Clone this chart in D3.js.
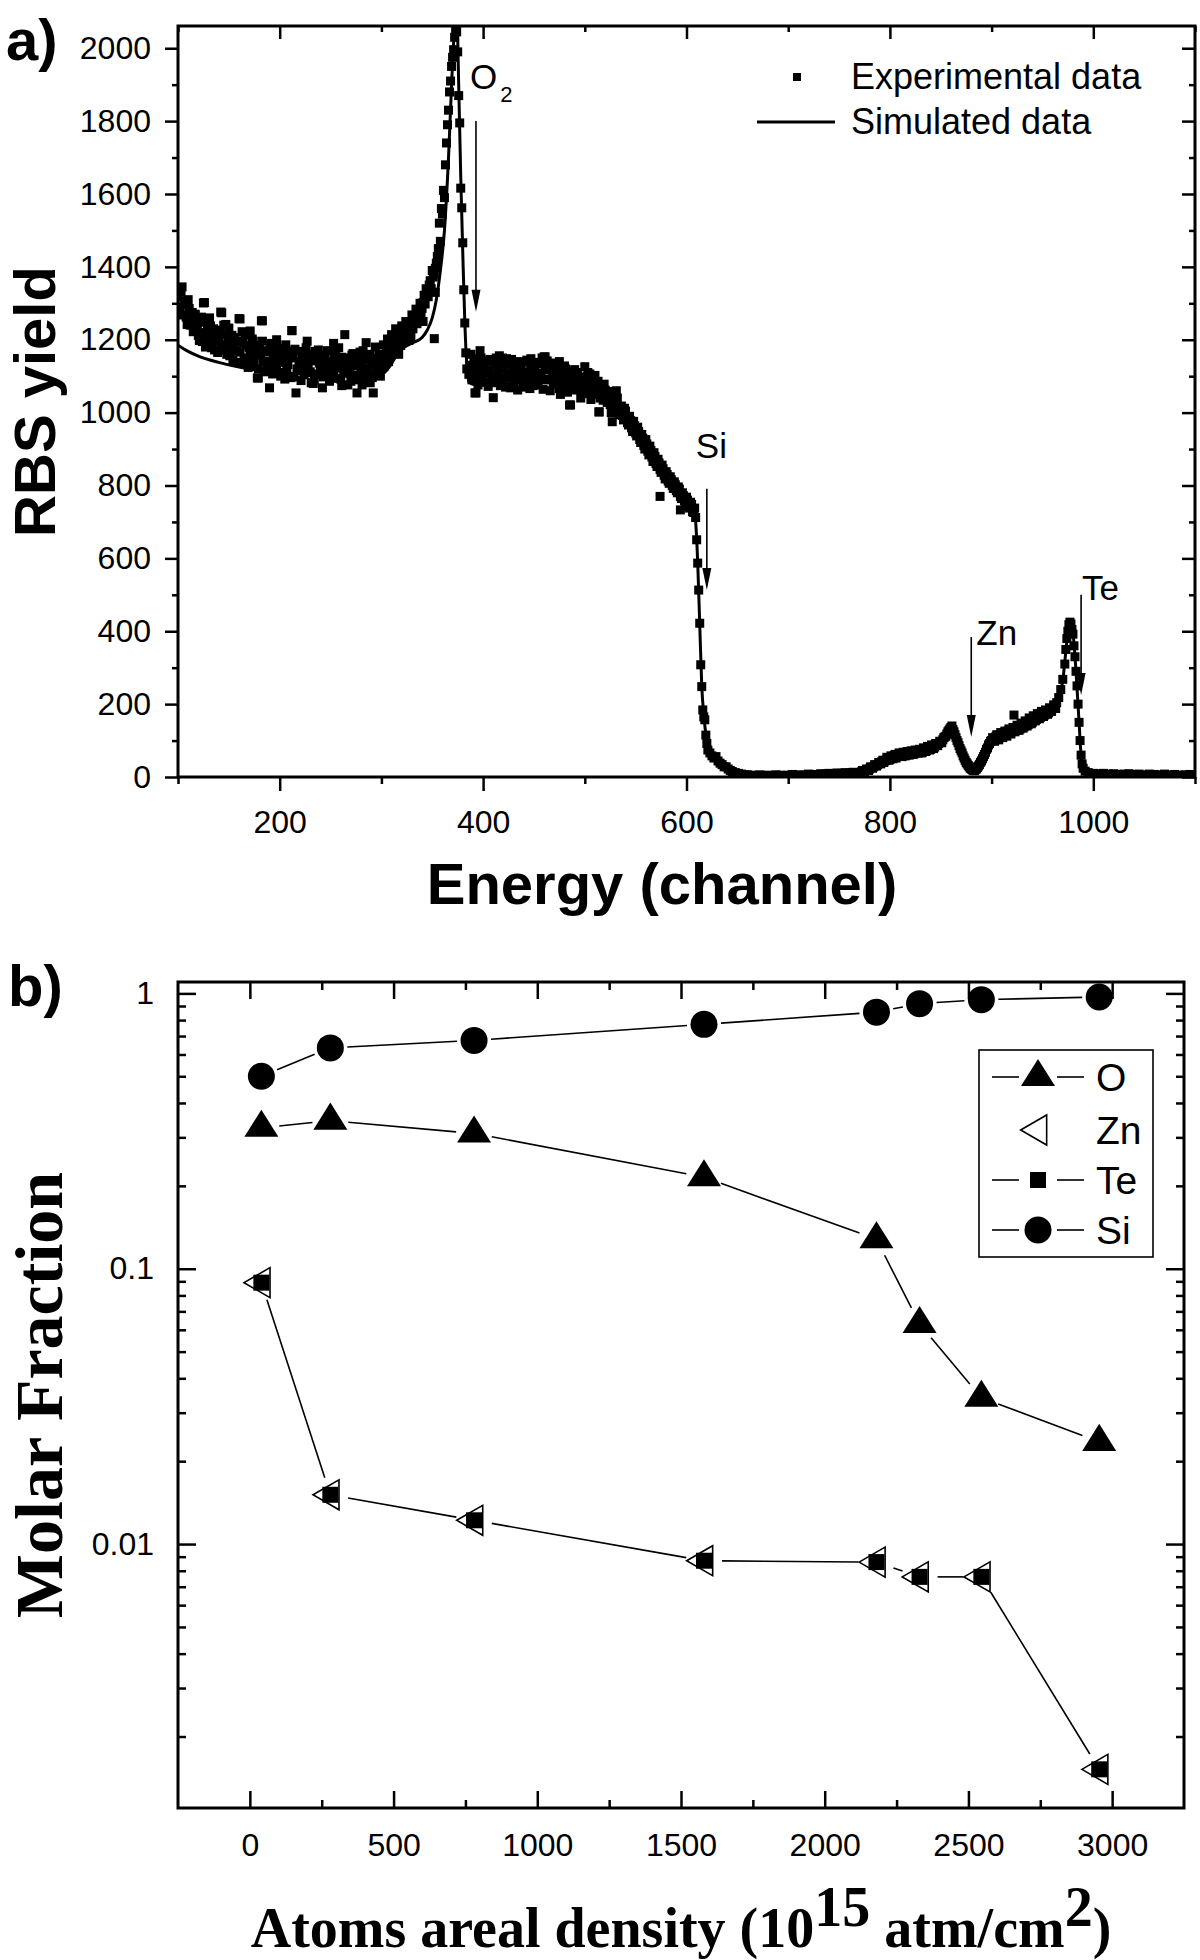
<!DOCTYPE html>
<html>
<head>
<meta charset="utf-8">
<script src="https://cdn.jsdelivr.net/npm/d3@7/dist/d3.min.js"></script>
<style>
  body { margin: 0; background: #FFFFFF; }
  svg { display: block; }
</style>
</head>
<body>
<div class="chart"></div>
<script>
// ---------- panel a: RBS spectrum (channel, yield) ----------
const expLeft = [
  [100,1318],[102,1282],[104,1345],[106,1296],[108,1262],[110,1310],[112,1240],[114,1275],[116,1228],[118,1256],
  [120,1212],[122,1248],[124,1195],[126,1302],[128,1220],[130,1186],[132,1238],[134,1204],[136,1172],[138,1226],
  [140,1198],[142,1276],[144,1180],[146,1215],[148,1160],[150,1232],[152,1188],[154,1145],[156,1206],[158,1170],
  [160,1258],[162,1136],[164,1192],[166,1214],[168,1150],[170,1178],[172,1128],[174,1196],[176,1162],[178,1095],
  [180,1184],[182,1252],[184,1140],[186,1170],[188,1118],[190,1068],[192,1190],[194,1150],[196,1122],[198,1176],
  [200,1138],[202,1160],[204,1110],[206,1186],[208,1132],[210,1156],[212,1225],[214,1098],[216,1054],[218,1168],
  [220,1126],[222,1148],[224,1104],[226,1178],[228,1130],[230,1112],[232,1160],[234,1090],[236,1142],[238,1172],
  [240,1120],[242,1068],[244,1150],[246,1106],[248,1134],[250,1168],[252,1100],[254,1144],[256,1122],[258,1178],
  [260,1092],[262,1138],[264,1214],[266,1116],[268,1150],[270,1086],[272,1162],[274,1128],[276,1054],[278,1144],
  [280,1106],[282,1170],[284,1120],[286,1098],[288,1152],[290,1130],[292,1054],[294,1180],[296,1118],[298,1160],
  [300,1136],[302,1186],[304,1148],[306,1202],[308,1162],[310,1214],[312,1176],[314,1230],[316,1190],[318,1206],
  [320,1238],[322,1196],[324,1250],[326,1218],[328,1236],[330,1268],[332,1246],[334,1284],[336,1262],[338,1300],
  [340,1286],[342,1322],[344,1340],[346,1318],[348,1362],[350,1390],[352,1380],[354,1410],[356,1450]
];
const expLeftOdd = [
  [101,1290],[103,1330],[105,1268],[107,1305],[109,1242],[111,1286],[113,1258],[115,1222],[117,1270],[119,1234],
  [121,1198],[123,1262],[125,1218],[127,1180],[129,1244],[131,1206],[133,1178],[135,1230],[137,1196],[139,1165],
  [141,1218],[143,1186],[145,1240],[147,1172],[149,1200],[151,1156],[153,1212],[155,1178],[157,1138],[159,1196],
  [161,1166],[163,1222],[165,1146],[167,1184],[169,1124],[171,1170],[173,1202],[175,1142],[177,1180],[179,1120],
  [181,1158],[183,1196],[185,1112],[187,1166],[189,1140],[191,1184],[193,1106],[195,1170],[197,1132],[199,1158],
  [201,1100],[203,1176],[205,1140],[207,1118],[209,1168],[211,1096],[213,1150],[215,1174],[217,1120],[219,1140],
  [221,1088],[223,1162],[225,1134],[227,1110],[229,1156],[231,1082],[233,1146],[235,1168],[237,1106],[239,1136],
  [241,1158],[243,1098],[245,1128],[247,1170],[249,1086],[251,1142],[253,1116],[255,1160],[257,1094],[259,1130],
  [261,1152],[263,1108],[265,1140],[267,1076],[269,1126],[271,1158],[273,1102],[275,1136],[277,1090],[279,1166],
  [281,1124],[283,1084],[285,1146],[287,1112],[289,1160],[291,1096],[293,1138],[295,1104],[297,1148],[299,1122],
  [301,1160],[303,1128],[305,1176],[307,1150],[309,1188],[311,1160],[313,1198],[315,1172],[317,1216],[319,1184],
  [321,1224],[323,1206],[325,1232],[327,1198],[329,1250],[331,1230],[333,1262],[335,1244],[337,1280],[339,1268],
  [341,1302],[343,1298],[345,1330],[347,1350],[349,1340],[351,1372],[353,1396],[355,1428]
];
const expLeftExtra = [
  [125,1301],[131,1260],[143,1274],[147,1242],[161,1257],[171,1224],[179,1095],[183,1252],[197,1200],[205,1092],
  [212,1225],[227,1196],[233,1080],[253,1190],[261,1074],[281,1076],[285,1192],[289,1082],[299,1100],[307,1140],
  [317,1160],[329,1206],[341,1250],[352,1203],[353,1330],[355,1401]
];
const expPeak = [
  [357,1520],[358,1470],[359,1560],[360,1545],[361,1610],[362,1590],[363,1680],[364,1740],[365,1790],[366,1830],
  [367,1880],[368,1910],[369,1950],[370,1975],[371,1996],[372,2030],[373,2050],[374,2045],[375,1990],[376,1870],
  [377,1795],[378,1616],[379,1562],[380,1466],[381,1337],[382,1246],[383,1164],[384,1120]
];
const expPlateau = [
  [386,1105],[388,1160],[390,1124],[392,1054],[394,1138],[396,1096],[398,1150],[400,1112],[402,1084],[404,1142],
  [406,1118],[408,1090],[410,1041],[412,1130],[414,1102],[416,1156],[418,1088],[420,1120],[422,1070],[424,1134],
  [426,1098],[428,1146],[430,1084],[432,1116],[434,1062],[436,1128],[438,1100],[440,1139],[442,1080],[444,1112],
  [446,1066],[448,1124],[450,1094],[452,1138],[454,1076],[456,1108],[458,1150],[460,1153],[462,1090],[464,1122],
  [466,1060],[468,1102],[470,1136],[472,1078],[474,1114],[476,1050],[478,1098],[480,1128],[482,1072],[484,1104],
  [486,1021],[488,1090],[490,1118],[492,1062],[494,1096],[496,1040],[498,1080],[500,1126],[502,1066],[504,1094],
  [506,1036],[508,1070],[510,1102],[512,1050],[514,1002],[516,1076],[518,1034],[520,1062],[522,1028],[524,1050],
  [526,1000],[528,1036],[530,1016],[532,1040],[534,994],[536,1018],[538,980],[540,1004],[542,972],[544,990],
  [546,958],[548,976],[550,944],[552,960],[554,926],[556,940],[558,910],[560,926],[562,894],[564,908],
  [566,878],[568,890],[570,860],[572,872],[574,844],[576,856],[578,828],[580,838],[582,812],[584,824],
  [586,800],[588,810],[590,786],[592,796],[594,770],[596,780],[598,758],[600,768],[602,744],[604,754],
  [606,730],[608,738]
];
const expPlateauOdd = [
  [387,1130],[389,1090],[391,1148],[393,1112],[395,1076],[397,1126],[399,1098],[401,1136],[403,1110],[405,1072],
  [407,1146],[409,1104],[411,1082],[413,1150],[415,1116],[417,1074],[419,1128],[421,1096],[423,1148],[425,1108],
  [427,1068],[429,1122],[431,1100],[433,1140],[435,1092],[437,1118],[439,1070],[441,1110],[443,1144],[445,1098],
  [447,1120],[449,1074],[451,1112],[453,1090],[455,1134],[457,1098],[459,1064],[461,1118],[463,1142],[465,1092],
  [467,1126],[469,1080],[471,1100],[473,1132],[475,1066],[477,1110],[479,1088],[481,1120],[483,1056],[485,1096],
  [487,1112],[489,1064],[491,1088],[493,1110],[495,1070],[497,1098],[499,1052],[501,1092],[503,1078],[505,1106],
  [507,1054],[509,1084],[511,1064],[513,1086],[515,1040],[517,1060],[519,1078],[521,1040],[523,1058],[525,1022],
  [527,1046],[529,1008],[531,1030],[533,1012],[535,1000],[537,992],[539,1012],[541,986],[543,966],[545,978],
  [547,948],[549,964],[551,936],[553,948],[555,918],[557,930],[559,900],[561,914],[563,884],[565,896],
  [567,866],[569,880],[571,852],[573,862],[575,836],[577,846],[579,818],[581,830],[583,806],[585,816],
  [587,792],[589,802],[591,780],[593,790],[595,764],[597,772],[599,750],[601,760],[603,738],[605,748],[607,726]
];
const expPlateauExtra = [
  [393,1054],[397,1170],[419,1150],[441,1139],[447,1148],[461,1153],[475,1140],[485,1021],[503,1110],[514,1002],
  [527,975],[531,1060],[574,770],[594,733],[606,728]
];
const expEdge = [
  [609,712],[610,651],[611,587],[612,513],[613,422],[614,308],[615,248],[616,184],[617,165],[618,157],
  [619,115],[620,92],[621,74],[623,66],[625,58],[627,52],[629,56],[631,44],[633,38],[635,34],
  [637,28],[639,28],[641,22],[643,18],[645,15],[648,12],[651,10],[654,8],[657,6],[660,6]
];
const expFlat = [
  [664,5],[668,4],[672,6],[676,3],[680,5],[684,4],[688,6],[692,5],[696,3],[700,5],[704,7],[708,4],[712,6],
  [716,5],[720,8],[724,6],[728,7],[732,9],[736,8],[740,10],[744,9],[748,11],[752,10],[756,12],[760,11],
  [764,13],[768,12]
];
const expZnTe = [
  [770,12],[772,14],[774,16],[776,18],[778,20],[780,22],[782,26],[784,28],[786,32],[788,34],
  [790,38],[792,42],[794,40],[796,46],[798,50],[800,48],[802,54],[804,58],[806,52],[808,60],
  [810,62],[812,56],[814,64],[816,60],[818,66],[820,62],[822,68],[824,64],[826,70],[828,66],
  [830,72],[832,68],[834,76],[836,72],[838,80],[840,76],[842,84],[844,82],[846,88],[848,92],
  [850,96],[852,102],[854,110],[856,118],[858,128],[860,136],[862,130],[864,116],[866,100],[868,86],
  [870,72],[872,58],[874,46],[876,36],[878,28],[880,22],[882,18],[884,20],[886,26],[888,34],
  [890,44],[892,56],[894,68],[896,80],[898,92],[900,100],[902,104],[904,110],[906,106],[908,116],
  [910,112],[912,120],[914,116],[916,126],[918,122],[920,130],[922,170],[924,128],[926,136],[928,132],
  [930,142],[932,138],[934,148],[936,144],[938,156],[940,150],[942,162],[944,158],[946,168],[948,164],
  [950,174],[952,170],[954,178],[956,176],[958,184],[960,188],[962,194],[964,204],[966,218],[968,240],
  [970,268],[972,310],[973,350],[974,380],[975,400],[976,418],[977,425],[978,420],[979,405],[980,392],
  [981,360],[982,330],[983,290],[984,250],[985,200],[986,150],[987,100],[988,60],[989,36],[990,24],
  [992,16],[995,12],[1000,10]
];
const expZnTeOdd = [
  [771,10],[773,18],[775,14],[777,22],[779,18],[781,28],[783,24],[785,34],[787,30],[789,40],
  [791,36],[793,46],[795,44],[797,54],[799,46],[801,58],[803,50],[805,62],[807,56],[809,66],
  [811,58],[813,68],[815,58],[817,70],[819,60],[821,72],[823,62],[825,74],[827,66],[829,76],
  [831,66],[833,80],[835,70],[837,84],[839,74],[841,88],[843,78],[845,92],[847,86],[849,98],
  [851,94],[853,108],[855,112],[857,124],[859,132],[861,140],[863,124],[865,108],[867,94],[869,78],
  [871,66],[873,52],[875,40],[877,32],[879,24],[881,20],[883,17],[885,22],[887,30],[889,40],
  [891,50],[893,62],[895,76],[897,88],[899,98],[901,108],[903,98],[905,116],[907,102],[909,122],
  [911,108],[913,126],[915,112],[917,132],[919,118],[921,136],[923,124],[925,142],[927,128],[929,148],
  [931,134],[933,154],[935,140],[937,162],[939,146],[941,168],[943,154],[945,174],[947,160],[949,180],
  [951,166],[953,184],[955,172],[957,190],[959,180],[961,198],[963,188]
];
const expTail = [
  [1005,9],[1010,10],[1015,8],[1020,9],[1025,7],[1030,8],[1035,9],[1040,7],[1045,8],[1050,6],
  [1055,8],[1060,7],[1065,6],[1070,8],[1075,6],[1080,7],[1085,5],[1090,6],[1095,7],[1100,5]
];
const simCurve = [
  [100,1185],[110,1168],[120,1155],[140,1138],[160,1125],[180,1116],[200,1110],[223,1106],[250,1103],[275,1101],
  [289,1101],[298,1104],[303,1110],[309,1130],[315,1158],[320,1174],[331,1192],[340,1206],[345,1226],[350,1260],
  [354,1310],[358,1390],[362,1500],[366,1700],[369,1900],[372,2060],[374,2110],[376,1900],[378,1650],[380,1440],
  [382,1250],[384,1130],[386,1085],[390,1078],[400,1076],[450,1084],[500,1064],[520,1040],[540,995],[560,922],
  [580,838],[600,768],[607,736],[609,700],[611,590],[613,420],[615,250],[617,170],[620,100],[624,65],
  [630,45],[640,25],[650,12],[660,6],[700,5],[750,10],[780,20],[800,45],[830,68],[850,92],
  [858,125],[861,135],[866,100],[872,58],[878,28],[883,18],[888,32],[894,66],[900,98],[910,114],
  [930,138],[950,170],[960,186],[966,215],[970,265],[974,370],[977,422],[980,395],[983,290],[986,150],
  [988,60],[990,25],[995,12],[1000,8],[1100,5]
];
const arrowMarks = [
  { label: 'O', sub: '2', ch: 393, top: 1800, tip: 1277, dx: -6, dy: -32 },
  { label: 'Si', ch: 620, top: 791, tip: 513, dx: -11, dy: -31 },
  { label: 'Zn', ch: 880, top: 384, tip: 110, dx: 5, dy: 8 },
  { label: 'Te', ch: 988, top: 500, tip: 225, dx: 1, dy: 5 }
];
const rbsXTicks = [200, 400, 600, 800, 1000];
const rbsXMinor = [100, 300, 500, 700, 900, 1100];
const rbsYTicks = [0, 200, 400, 600, 800, 1000, 1200, 1400, 1600, 1800, 2000];
const rbsYMinor = [100, 300, 500, 700, 900, 1100, 1300, 1500, 1700, 1900];

// ---------- panel b: molar fraction vs areal density ----------
const density = [40, 280, 780, 1580, 2180, 2330, 2545, 2955];
const fracO  = [0.325, 0.345, 0.31, 0.215, 0.128, 0.063, 0.034, 0.0235];
const fracZn = [0.089, 0.0151, 0.0122, 0.0087, 0.0086, 0.0076, 0.0076, 0.00152];
const fracTe = [0.089, 0.0151, 0.0122, 0.0087, 0.0086, 0.0076, 0.0076, 0.00152];
const fracSi = [0.50, 0.634, 0.675, 0.772, 0.855, 0.918, 0.949, 0.97];
const denXTicks = [0, 500, 1000, 1500, 2000, 2500, 3000];
const denXMinor = [250, 750, 1250, 1750, 2250, 2750];
const fracYTicks = [0.01, 0.1, 1];
const fracYMinor = [0.002, 0.003, 0.004, 0.005, 0.006, 0.007, 0.008, 0.009,
  0.02, 0.03, 0.04, 0.05, 0.06, 0.07, 0.08, 0.09,
  0.2, 0.3, 0.4, 0.5, 0.6, 0.7, 0.8, 0.9];

const width = 1200;
const height = 1960;
const sans = "'Liberation Sans', Arial, Helvetica, sans-serif";
const serif = "'Liberation Serif', 'Times New Roman', serif";

const svg = d3.select('.chart')
  .append('svg')
  .attr('width', width)
  .attr('height', height)
  .style('background', '#FFFFFF');

// draws one set of ticks along a side, no domain line
const addTicks = (axis, transform, values, size, padding, fmt) => {
  const g = svg.append('g')
    .attr('transform', transform)
    .call(axis.tickValues(values).tickSizeInner(size).tickSizeOuter(0)
      .tickPadding(padding).tickFormat(fmt || (() => '')));
  g.select('.domain').remove();
  g.attr('font-family', sans).attr('font-size', 32).attr('color', '#000');
  g.selectAll('.tick line').attr('stroke-width', 2.5);
  return g;
};

// ================= panel a =================
const ax = { left: 178, right: 1195, top: 26, bottom: 777 };
const xA = d3.scaleLinear().domain([100, 1100]).range([ax.left, ax.right]);
const yA = d3.scaleLinear().domain([0, 2061]).range([ax.bottom, ax.top]);

svg.append('clipPath').attr('id', 'clipA')
  .append('rect')
  .attr('x', ax.left).attr('y', ax.top)
  .attr('width', ax.right - ax.left).attr('height', ax.bottom - ax.top);

const plotA = svg.append('g').attr('clip-path', 'url(#clipA)');

const expAll = [].concat(expLeft, expLeftOdd, expLeftExtra, expPeak, expPlateau, expPlateauOdd,
  expPlateauExtra, expEdge, expFlat, expZnTe, expZnTeOdd, expTail);

const sq = 9;
plotA.selectAll('.exp')
  .data(expAll).enter()
  .append('rect')
  .attr('class', 'exp')
  .attr('x', d => xA(d[0]) - sq / 2)
  .attr('y', d => yA(d[1]) - sq / 2)
  .attr('width', sq)
  .attr('height', sq)
  .attr('fill', '#000');

plotA.append('path')
  .datum(simCurve)
  .attr('fill', 'none')
  .attr('stroke', '#000')
  .attr('stroke-width', 3)
  .attr('stroke-linejoin', 'round')
  .attr('d', d3.line().x(d => xA(d[0])).y(d => yA(d[1])).curve(d3.curveMonotoneX));

// element arrows
arrowMarks.forEach(m => {
  const x = xA(m.ch);
  const yTop = yA(m.top);
  const yTip = yA(m.tip);
  svg.append('line')
    .attr('x1', x).attr('x2', x)
    .attr('y1', yTop).attr('y2', yTip - 10)
    .attr('stroke', '#000').attr('stroke-width', 1.6);
  svg.append('path')
    .attr('d', `M${x - 4.5},${yTip - 22} L${x + 4.5},${yTip - 22} L${x},${yTip} Z`)
    .attr('fill', '#000');
  const t = svg.append('text')
    .attr('x', x + m.dx)
    .attr('y', yTop + m.dy)
    .attr('font-family', sans)
    .attr('font-size', 35)
    .text(m.label);
  if (m.sub) {
    t.append('tspan').attr('font-size', 22).attr('dx', 3).attr('dy', 13).text(m.sub);
  }
});

// frame + ticks
svg.append('rect')
  .attr('x', ax.left).attr('y', ax.top)
  .attr('width', ax.right - ax.left).attr('height', ax.bottom - ax.top)
  .attr('fill', 'none').attr('stroke', '#000').attr('stroke-width', 3);

addTicks(d3.axisBottom(xA), `translate(0,${ax.bottom})`, rbsXTicks, 14, 19, d => d);
addTicks(d3.axisBottom(xA), `translate(0,${ax.bottom})`, rbsXMinor, 7, 0);
addTicks(d3.axisTop(xA), `translate(0,${ax.top})`, rbsXTicks, -13, 0);
addTicks(d3.axisTop(xA), `translate(0,${ax.top})`, rbsXMinor, -6, 0);
addTicks(d3.axisLeft(yA), `translate(${ax.left},0)`, rbsYTicks, 13, 14, d => d);
addTicks(d3.axisLeft(yA), `translate(${ax.left},0)`, rbsYMinor, 6, 0);
addTicks(d3.axisRight(yA), `translate(${ax.right},0)`, rbsYTicks, -13, 0);
addTicks(d3.axisRight(yA), `translate(${ax.right},0)`, rbsYMinor, -6, 0);

// legend a
svg.append('rect').attr('x', 793).attr('y', 73).attr('width', 8).attr('height', 8).attr('fill', '#000');
svg.append('text').attr('x', 851).attr('y', 89).attr('font-family', sans).attr('font-size', 36)
  .text('Experimental data');
svg.append('line').attr('x1', 757).attr('x2', 835).attr('y1', 122).attr('y2', 122)
  .attr('stroke', '#000').attr('stroke-width', 3);
svg.append('text').attr('x', 851).attr('y', 134).attr('font-family', sans).attr('font-size', 36)
  .text('Simulated data');

// titles a
svg.append('text').attr('x', 6).attr('y', 60)
  .attr('font-family', sans).attr('font-weight', 'bold').attr('font-size', 58).text('a)');
svg.append('text')
  .attr('transform', `translate(55,${(ax.top + ax.bottom) / 2}) rotate(-90)`)
  .attr('text-anchor', 'middle')
  .attr('font-family', sans).attr('font-weight', 'bold').attr('font-size', 58)
  .text('RBS yield');
svg.append('text')
  .attr('x', 662).attr('y', 904)
  .attr('text-anchor', 'middle')
  .attr('font-family', sans).attr('font-weight', 'bold').attr('font-size', 58)
  .text('Energy (channel)');

// ================= panel b =================
const bx = { left: 178, right: 1184, top: 982, bottom: 1808 };
const xB = d3.scaleLinear().domain([-250, 3250]).range([bx.left, bx.right]);
const yB = d3.scaleLog().domain([0.0011, 1.1]).range([bx.bottom, bx.top]);

const pts = vals => density.map((d, i) => [xB(d), yB(vals[i])]);

// connecting lines with small gaps at the markers
const gappedLine = (vals, gap) => {
  const p = pts(vals);
  for (let i = 0; i < p.length - 1; i++) {
    const [x1, y1] = p[i];
    const [x2, y2] = p[i + 1];
    const len = Math.hypot(x2 - x1, y2 - y1);
    if (len <= 2 * gap) continue;
    const ux = (x2 - x1) / len;
    const uy = (y2 - y1) / len;
    svg.append('line')
      .attr('x1', x1 + ux * gap).attr('y1', y1 + uy * gap)
      .attr('x2', x2 - ux * gap).attr('y2', y2 - uy * gap)
      .attr('stroke', '#000').attr('stroke-width', 1.6);
  }
};
gappedLine(fracSi, 17);
gappedLine(fracO, 18);
gappedLine(fracTe, 18);

const triUp = d3.symbol(d3.symbolTriangle).size(500);
const triZn = d3.symbol(d3.symbolTriangle).size(390);

const drawO = (g, x, y) => g.append('path').attr('d', triUp())
  .attr('transform', `translate(${x},${y}) scale(1,0.92)`).attr('fill', '#000');
const drawZn = (g, x, y) => g.append('path').attr('d', triZn())
  .attr('transform', `translate(${x},${y}) rotate(-90)`)
  .attr('fill', '#fff').attr('stroke', '#000').attr('stroke-width', 1.6);
const drawTe = (g, x, y) => g.append('rect')
  .attr('x', x - 8).attr('y', y - 8).attr('width', 16).attr('height', 16).attr('fill', '#000');
const drawSi = (g, x, y) => g.append('circle')
  .attr('cx', x).attr('cy', y).attr('r', 13.5).attr('fill', '#000');

const marks = svg.append('g');
pts(fracSi).forEach(p => drawSi(marks, p[0], p[1]));
pts(fracO).forEach(p => drawO(marks, p[0], p[1]));
pts(fracZn).forEach(p => drawZn(marks, p[0], p[1]));
pts(fracTe).forEach(p => drawTe(marks, p[0], p[1]));

svg.append('rect')
  .attr('x', bx.left).attr('y', bx.top)
  .attr('width', bx.right - bx.left).attr('height', bx.bottom - bx.top)
  .attr('fill', 'none').attr('stroke', '#000').attr('stroke-width', 3);

addTicks(d3.axisBottom(xB), `translate(0,${bx.bottom})`, denXTicks, -17, 25, d => d);
addTicks(d3.axisBottom(xB), `translate(0,${bx.bottom})`, denXMinor, -8, 0);
addTicks(d3.axisTop(xB), `translate(0,${bx.top})`, denXTicks, -17, 0);
addTicks(d3.axisTop(xB), `translate(0,${bx.top})`, denXMinor, -8, 0);
addTicks(d3.axisLeft(yB), `translate(${bx.left},0)`, fracYTicks, -18, 24, d => d3.format('~g')(d));
addTicks(d3.axisLeft(yB), `translate(${bx.left},0)`, fracYMinor, -8, 0);
addTicks(d3.axisRight(yB), `translate(${bx.right},0)`, fracYTicks, -18, 0);
addTicks(d3.axisRight(yB), `translate(${bx.right},0)`, fracYMinor, -8, 0);

// legend b
const legB = svg.append('g');
legB.append('rect').attr('x', 979).attr('y', 1050).attr('width', 174).attr('height', 207)
  .attr('fill', '#fff').attr('stroke', '#000').attr('stroke-width', 1.6);
const legItems = [
  { name: 'O', y: 1077, line: true, draw: drawO },
  { name: 'Zn', y: 1130, line: false, draw: drawZn },
  { name: 'Te', y: 1180, line: true, draw: drawTe },
  { name: 'Si', y: 1230, line: true, draw: drawSi }
];
legItems.forEach(it => {
  if (it.line) {
    legB.append('line').attr('x1', 992).attr('x2', 1019).attr('y1', it.y).attr('y2', it.y)
      .attr('stroke', '#000').attr('stroke-width', 1.6);
    legB.append('line').attr('x1', 1057).attr('x2', 1084).attr('y1', it.y).attr('y2', it.y)
      .attr('stroke', '#000').attr('stroke-width', 1.6);
  }
  it.draw(legB, 1038, it.y);
  legB.append('text').attr('x', 1096).attr('y', it.y + 14)
    .attr('font-family', sans).attr('font-size', 39).text(it.name);
});

// titles b
svg.append('text').attr('x', 8).attr('y', 1006)
  .attr('font-family', sans).attr('font-weight', 'bold').attr('font-size', 58).text('b)');
svg.append('text')
  .attr('transform', `translate(62,${(bx.top + bx.bottom) / 2}) rotate(-90)`)
  .attr('text-anchor', 'middle')
  .attr('font-family', serif).attr('font-weight', 'bold').attr('font-size', 68)
  .text('Molar Fraction');
const xt = svg.append('text')
  .attr('x', (bx.left + bx.right) / 2).attr('y', 1947)
  .attr('text-anchor', 'middle')
  .attr('font-family', serif).attr('font-weight', 'bold').attr('font-size', 56);
xt.append('tspan').text('Atoms areal density (10');
xt.append('tspan').attr('dy', -21).text('15');
xt.append('tspan').attr('dy', 21).text(' atm/cm');
xt.append('tspan').attr('dy', -21).text('2');
xt.append('tspan').attr('dy', 21).text(')');
</script>
</body>
</html>
